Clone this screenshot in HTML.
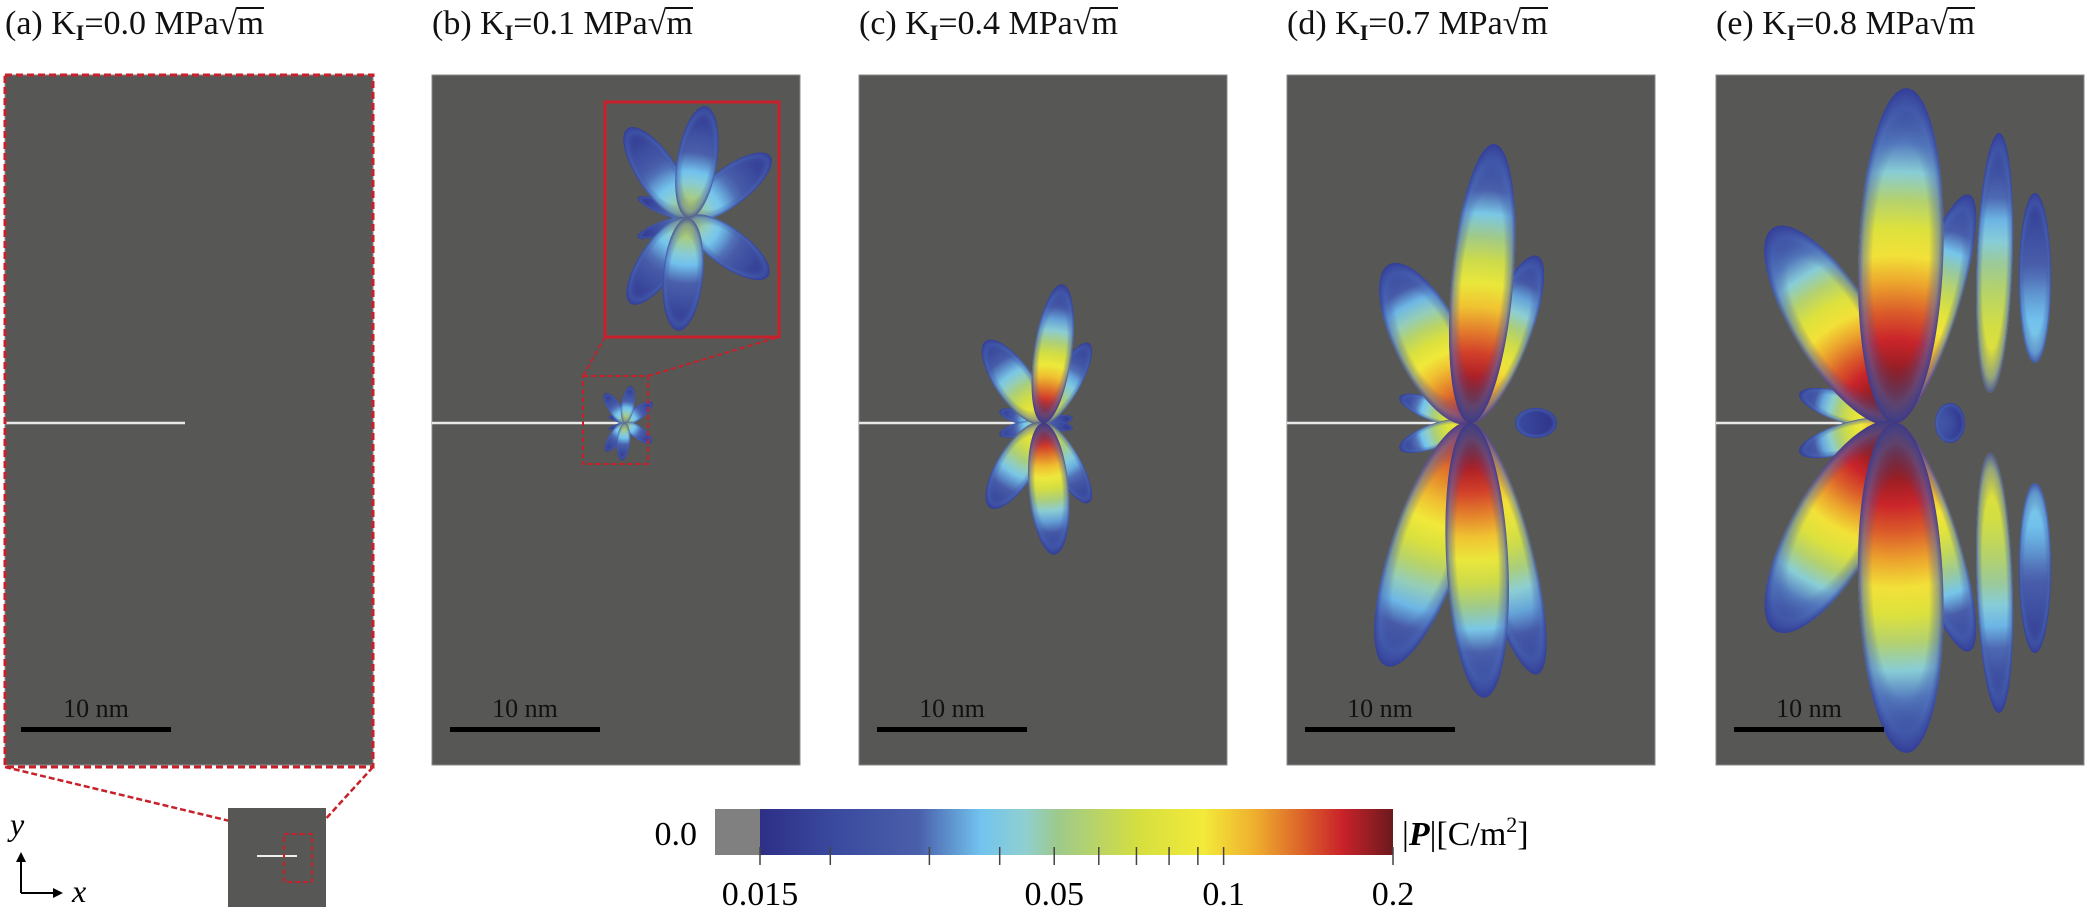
<!DOCTYPE html>
<html><head><meta charset="utf-8">
<style>
html,body{margin:0;padding:0;background:#fff;}
body{width:2086px;height:912px;position:relative;overflow:hidden;font-family:"Liberation Serif",serif;}
.title{position:absolute;top:2px;font-size:34px;color:#111;white-space:nowrap;line-height:44px;}
.title sub{font-size:22px;font-weight:bold;vertical-align:-6px;}
.rad{border-top:2px solid #111;padding-top:0px;display:inline-block;line-height:30px;}
svg{position:absolute;left:0;top:0;}
</style></head>
<body>
<div class="title" style="left:5px">(a) K<sub>I</sub>=0.0 MPa√<span class="rad">m</span></div>
<div class="title" style="left:432px">(b) K<sub>I</sub>=0.1 MPa√<span class="rad">m</span></div>
<div class="title" style="left:859px">(c) K<sub>I</sub>=0.4 MPa√<span class="rad">m</span></div>
<div class="title" style="left:1287px">(d) K<sub>I</sub>=0.7 MPa√<span class="rad">m</span></div>
<div class="title" style="left:1716px">(e) K<sub>I</sub>=0.8 MPa√<span class="rad">m</span></div>
<svg id="fig" width="2086" height="912" viewBox="0 0 2086 912" xmlns="http://www.w3.org/2000/svg">
<defs id="defs">
<radialGradient id="rim" cx="0.5" cy="0.5" r="0.5">
<stop offset="0" stop-color="#3a4a9e" stop-opacity="0"/>
<stop offset="0.66" stop-color="#3a4a9e" stop-opacity="0"/>
<stop offset="0.88" stop-color="#4a6ab8" stop-opacity="0.5"/>
<stop offset="1" stop-color="#34409a" stop-opacity="0.85"/>
</radialGradient>
</defs>
</svg>
<script>
// ---- colorbar data ----
const cbMin = 0.015, cbMax = 0.2;
const cbTickValues = [0.015,0.02,0.03,0.04,0.05,0.06,0.07,0.08,0.09,0.1,0.2];
const cbTickLabels = ["0.015","","","","0.05","","","","","0.1","0.2"];
const cmapPos = [0,0.12,0.25,0.35,0.42,0.47,0.6,0.7,0.78,0.86,0.92,1];
const cmapCol = ["#2e2f87","#3a4a9e","#4a5fab","#72c4ef","#8fcfcf","#9ec98c","#d6df3e","#f3ea3a","#efb02e","#db5f2a","#c9222a","#6a1a1d"];

// ---- panel data ----
const panelNames = ["a","b","c","d","e"];
const panelLeft = [5,432,859,1287,1716];
const crackTipX = [185,625,1043,1470,1895];
const bAngles=[-81,-85,95,-124,-37,124,36,-158,159];
const bLengths=[113,0,113,108,103,103,99,54,54];
const bWidths=[40,0,40,40,38,38,38,13,13];
const bPeaks=[0.07,0.02,0.07,0.06,0.06,0.06,0.06,0.04,0.04];
const cAngles=[-82,85,-125,122,-60,60,-165,165,-10,10];
const cLengths=[140,132,100,100,92,92,45,45,30,30];
const cWidths=[38,40,38,38,28,28,14,14,10,10];
const cPeaks=[0.22,0.22,0.1,0.1,0.08,0.08,0.06,0.06,0.03,0.03];
const dAngles=[-117,109,-68,75,-160,160,0,-85,87];
const dLengths=[178,257,180,260,75,75,42,280,275];
const dWidths=[68,72,48,55,22,24,30,62,62];
const dPeaks=[0.16,0.16,0.14,0.14,0.1,0.1,0.02,0.26,0.26];
const dAnchorX=[0,0,0,0,0,0,45,0,0];
const dAnchorY=[0,0,0,0,0,0,0,0,0];
const eAngles=[-90,90,-88,88,-72,72,-122,120,-163,163,0,-88,88];
const eLengths=[170,170,260,260,240,240,230,240,100,100,30,335,330];
const eWidths=[32,32,36,36,50,50,80,85,30,30,40,85,85];
const ePeaks=[0.04,0.04,0.08,0.08,0.15,0.15,0.2,0.2,0.12,0.12,0.025,0.3,0.3];
const eAnchorX=[140,140,95,95,0,0,0,0,0,0,40,0,0];
const eAnchorY=[-60,60,-30,30,0,0,0,0,0,0,0,0,0];

const NS="http://www.w3.org/2000/svg";
const svg=document.getElementById('fig');
const defs=document.getElementById('defs');
const PT=75, PB=765, PW=368, CY=423;
function mk(tag,attrs,parent){const e=document.createElementNS(NS,tag);for(const k in attrs)e.setAttribute(k,attrs[k]);(parent||svg).appendChild(e);return e;}
function hex(h){return [parseInt(h.substr(1,2),16),parseInt(h.substr(3,2),16),parseInt(h.substr(5,2),16)];}
function cmap(p){p=Math.max(0,Math.min(1,p));for(let i=1;i<cmapPos.length;i++){if(p<=cmapPos[i]){const t=(p-cmapPos[i-1])/(cmapPos[i]-cmapPos[i-1]);const a=hex(cmapCol[i-1]),b=hex(cmapCol[i]);return 'rgb('+a.map((v,j)=>Math.round(v+(b[j]-v)*t)).join(',')+')';}}return cmapCol[cmapCol.length-1];}
function logPos(v){return Math.log(v/cbMin)/Math.log(cbMax/cbMin);}
let gid=0;
function drawLobe(g,tx,ty,ang,L,W,peak,ax,ay,k){
  if(L<=0)return;
  const a=ang*Math.PI/180, x0=tx+ax, y0=ty+ay;
  const ecx=x0+Math.cos(a)*L/2, ecy=y0+Math.sin(a)*L/2;
  const id='lg'+(gid++);
  const gr=mk('radialGradient',{id:id,gradientUnits:'userSpaceOnUse',cx:ecx-L/2,cy:ecy,fx:ecx-L/2,fy:ecy,r:L},defs);
  const pp=Math.min(1,logPos(peak));
  for(let i=0;i<=12;i++){const t=i/12;mk('stop',{offset:t,'stop-color':cmap(pp*(1-Math.pow(t,k)))},gr);}
  const tr='rotate('+ang+' '+ecx+' '+ecy+')';
  const e=mk('ellipse',{cx:ecx,cy:ecy,rx:L/2,ry:W/2,transform:tr,fill:'url(#'+id+')'},g);
  
  
  const rim=mk('ellipse',{cx:ecx,cy:ecy,rx:L/2,ry:W/2,transform:tr,fill:'url(#rim)'},g);
  
  
}
function drawSet(g,tx,ty,angs,lens,wids,peaks,axs,ays,scale,k){
  const idx=angs.map((_,i)=>i).sort((i,j)=>peaks[i]-peaks[j]);
  idx.forEach(i=>drawLobe(g,tx,ty,angs[i],lens[i]*scale,wids[i]*scale,peaks[i],axs?axs[i]*scale:0,ays?ays[i]*scale:0,k));
}
panelNames.forEach((n,pi)=>{
  const x=panelLeft[pi];
  const g=mk('g',{});
  
  
  const r=mk('rect',{x:x,y:PT,width:PW,height:PB-PT,fill:'#575755',stroke:'#8a8a88','stroke-width':1},g);
  
  
  const c=mk('line',{x1:x,y1:CY,x2:crackTipX[pi],y2:CY,stroke:'#e8e8e8','stroke-width':2.5},g);
  
  
  const fl=mk('g',{},g);
  
  
  if(n==='b'){drawSet(fl,crackTipX[1],CY,bAngles,bLengths,bWidths,bPeaks,null,null,0.33,1.0);}
  if(n==='c'){drawSet(fl,crackTipX[2],CY,cAngles,cLengths,cWidths,cPeaks,null,null,1,1.3);}
  if(n==='d'){drawSet(fl,crackTipX[3],CY,dAngles,dLengths,dWidths,dPeaks,dAnchorX,dAnchorY,1,1.6);}
  if(n==='e'){drawSet(fl,crackTipX[4],CY,eAngles,eLengths,eWidths,ePeaks,eAnchorX,eAnchorY,1,1.8);}
  const sx=pi===0?21:x+18;
  const sb=mk('rect',{x:sx,y:727,width:150,height:5,fill:'#000'},g);
  
  
  const st=mk('text',{x:sx+75,y:717,'text-anchor':'middle','font-size':26,'font-family':'Liberation Serif, serif',fill:'#111'},g);
  st.textContent='10 nm';
  
  
});
const ab=mk('rect',{x:5,y:PT,width:368,height:PB-PT+2,fill:'none',stroke:'#c8202a','stroke-width':3,'stroke-dasharray':'7,4'});


const ig=mk('g',{});


mk('rect',{x:583,y:376,width:65,height:88,fill:'none',stroke:'#c8202a','stroke-width':2,'stroke-dasharray':'5,3'},ig);
mk('line',{x1:583,y1:376,x2:605,y2:337,stroke:'#c8202a','stroke-width':2,'stroke-dasharray':'5,3'},ig);
mk('line',{x1:648,y1:376,x2:779,y2:337,stroke:'#c8202a','stroke-width':2,'stroke-dasharray':'5,3'},ig);
drawSet(ig,688,218,bAngles,bLengths,bWidths,bPeaks,null,null,1,1.0);
mk('rect',{x:605,y:102,width:174,height:235,fill:'none',stroke:'#c8202a','stroke-width':3},ig);
const ov=mk('g',{});


mk('line',{x1:5,y1:767,x2:284,y2:834,stroke:'#c8202a','stroke-width':2.5,'stroke-dasharray':'6,3'},ov);
mk('line',{x1:373,y1:767,x2:312,y2:834,stroke:'#c8202a','stroke-width':2.5,'stroke-dasharray':'6,3'},ov);
mk('rect',{x:228,y:808,width:98,height:99,fill:'#575755'},ov);
mk('line',{x1:257,y1:856,x2:297,y2:856,stroke:'#eee','stroke-width':2},ov);
mk('rect',{x:284,y:834,width:28,height:48,fill:'none',stroke:'#c8202a','stroke-width':2,'stroke-dasharray':'5,3'},ov);
const ax=mk('g',{});


mk('line',{x1:21,y1:893,x2:21,y2:858,stroke:'#000','stroke-width':2},ax);
mk('polygon',{points:'21,852 16,862 26,862',fill:'#000'},ax);
mk('line',{x1:21,y1:893,x2:56,y2:893,stroke:'#000','stroke-width':2},ax);
mk('polygon',{points:'63,893 53,888 53,898',fill:'#000'},ax);
const yl=mk('text',{x:10,y:835,'font-size':32,'font-style':'italic','font-family':'Liberation Serif, serif'},ax);yl.textContent='y';
const xl=mk('text',{x:72,y:902,'font-size':32,'font-style':'italic','font-family':'Liberation Serif, serif'},ax);xl.textContent='x';
const CBX0=760,CBX1=1393,CBY0=809,CBY1=855;
function cbX(v){return CBX0+logPos(v)*(CBX1-CBX0);}
const cb=mk('g',{});


const cg=mk('linearGradient',{id:'cbg',x1:0,x2:1,y1:0,y2:0},defs);
cmapPos.forEach((p,i)=>mk('stop',{offset:p,'stop-color':cmapCol[i]},cg));
mk('rect',{x:715,y:CBY0,width:CBX0-715,height:CBY1-CBY0,fill:'#808080'},cb);
mk('rect',{x:CBX0,y:CBY0,width:CBX1-CBX0,height:CBY1-CBY0,fill:'url(#cbg)'},cb);
const z=mk('text',{x:697,y:845,'text-anchor':'end','font-size':34,'font-family':'Liberation Serif, serif'},cb);z.textContent='0.0';
cbTickValues.forEach((v,i)=>{
  const t=mk('line',{x1:cbX(v),y1:CBY1-8,x2:cbX(v),y2:CBY1+10,stroke:'#444','stroke-width':1.5},cb);
  
  
  if(cbTickLabels[i]){const l=mk('text',{x:cbX(v),y:905,'text-anchor':'middle','font-size':34,'font-family':'Liberation Serif, serif'},cb);l.textContent=cbTickLabels[i];
  
  }
});
const ct=mk('text',{x:1402,y:845,'font-size':34,'font-family':'Liberation Serif, serif'},cb);
ct.innerHTML='|<tspan font-weight="bold" font-style="italic">P</tspan>|[C/m<tspan font-size="22" dy="-13">2</tspan><tspan dy="13">]</tspan>';


</script>
</body></html>
